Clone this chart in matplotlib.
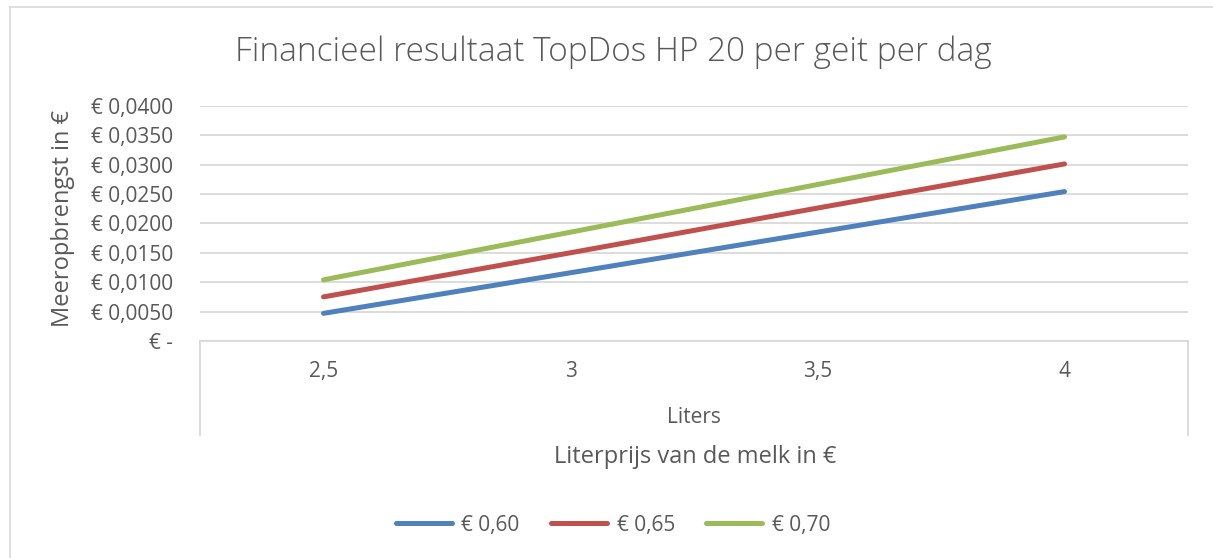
import matplotlib
matplotlib.use("Agg")
import matplotlib.pyplot as plt
from matplotlib.ticker import FuncFormatter, MultipleLocator
from matplotlib.lines import Line2D

categories = ["2,5", "3", "3,5", "4"]
series_names = ["€ 0,60", "€ 0,65", "€ 0,70"]
blue_vals = [0.0047, 0.0116, 0.0185, 0.0254]
red_vals = [0.0075, 0.0150, 0.0226, 0.0301]
green_vals = [0.0104, 0.0185, 0.0266, 0.0347]
colors = ["#4F81BD", "#C0504D", "#9BBB59"]

title = "Financieel resultaat TopDos HP 20 per geit per dag"
ylabel = "Meeropbrengst in €"
cat_level = "Liters"
xlabel = "Literprijs van de melk in €"

plt.rcParams['font.family'] = ['Open Sans', 'DejaVu Sans']
txt = "#595959"
grid = "#D9D9D9"

W, H = 1213, 558
fig = plt.figure(figsize=(W / 100, H / 100), dpi=100)
ax = fig.add_axes([200 / W, 1 - 341 / H, 988 / W, (341 - 105.7) / H])

x = list(range(len(categories)))
for vals, c, n in zip([blue_vals, red_vals, green_vals], colors, series_names):
    ax.plot(x, vals, color=c, lw=3.6, solid_capstyle='round', label=n)

ax.set_xlim(-0.5, len(categories) - 0.5)
ax.set_ylim(0, 0.04)
ax.yaxis.set_major_locator(MultipleLocator(0.005))


def fmt(v, pos):
    if abs(v) < 1e-9:
        return "€ -"
    return "€ " + f"{v:.4f}".replace(".", ",")


ax.yaxis.set_major_formatter(FuncFormatter(fmt))
ax.grid(axis='y', color=grid, lw=1.3)
ax.set_axisbelow(True)
for s in ax.spines.values():
    s.set_visible(False)
ax.tick_params(axis='y', length=0, pad=19.5, labelsize=15, labelcolor=txt)
ax.tick_params(axis='x', length=0, labelbottom=False)

# category labels
for i, c in enumerate(categories):
    ax.text(i, -0.13, c, transform=ax.get_xaxis_transform(), ha='center', va='center',
            fontsize=15, color=txt)
ax.text(0.5, -0.325, cat_level, transform=ax.transAxes, ha='center', va='center',
        fontsize=15, color=txt)
# category box lines
ax.plot([0, 1], [0, 0], transform=ax.transAxes, color=grid, lw=1.3, clip_on=False)
ax.plot([0, 0], [0, -0.40], transform=ax.transAxes, color=grid, lw=1.3, clip_on=False)
ax.plot([1, 1], [0, -0.40], transform=ax.transAxes, color=grid, lw=1.3, clip_on=False)

ax.set_ylabel(ylabel, fontsize=17, color=txt)
ax.yaxis.set_label_coords((75 - 200) / 988, 0.52)

fig.text(613 / W, 1 - 52 / H, title, ha='center', va='center', fontsize=24,
         color=txt, fontweight='light')
fig.text(695 / W, 1 - 457 / H, xlabel, ha='center', va='center', fontsize=17, color=txt)

handles = [Line2D([0], [0], color=c, lw=3.6, solid_capstyle='round') for c in colors]
fig.legend(handles, series_names, loc='center', bbox_to_anchor=(613 / W, 1 - 525 / H),
           ncol=3, frameon=False, fontsize=15, labelcolor=txt, handlelength=2.7,
           columnspacing=1.5, handletextpad=0.45)

# chart area border (only top and left edges visible in the crop)
fig.add_artist(Line2D([9.5 / W, 9.5 / W], [0, 1 - 7 / H], transform=fig.transFigure,
                      color=grid, lw=1.2))
fig.add_artist(Line2D([9.5 / W, 1], [1 - 7 / H, 1 - 7 / H], transform=fig.transFigure,
                      color=grid, lw=1.2))

fig.savefig("out.png", dpi=100)
